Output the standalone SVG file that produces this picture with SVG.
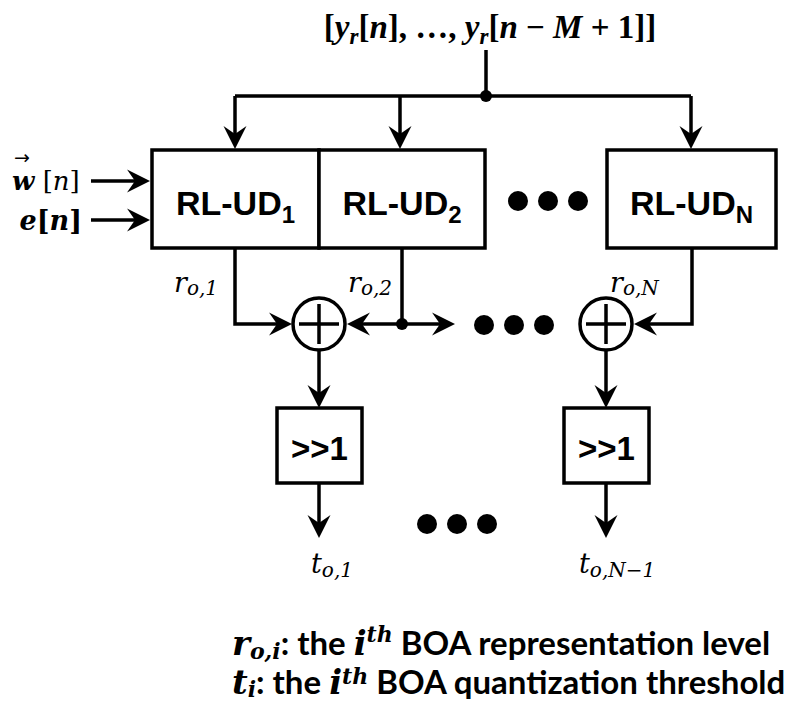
<svg xmlns="http://www.w3.org/2000/svg" width="801" height="703" viewBox="0 0 801 703">
<style>
.ln{stroke:#000;stroke-width:3.5;fill:none}
.bx{fill:#fff;stroke:#000;stroke-width:3.5}
.lbl{font-family:"Liberation Sans",Arial,sans-serif;font-weight:bold;font-size:34px;fill:#000}
.sh{font-family:"Liberation Sans",Arial,sans-serif;font-weight:bold;font-size:33px;fill:#000}
.m{font-family:"DejaVu Serif","Liberation Serif",serif;font-style:italic;fill:#000}
.mb{font-family:"DejaVu Serif","Liberation Serif",serif;font-weight:bold;fill:#000}
.tb{font-family:"Liberation Serif","DejaVu Serif",serif;font-weight:bold;fill:#000}
.i{font-style:italic}
.lg{font-family:Lato,"Open Sans",sans-serif;font-weight:bold;font-size:33px;fill:#000}
.dot{fill:#000}
</style>
<defs>
<marker id="ah" markerUnits="userSpaceOnUse" markerWidth="26" markerHeight="26" viewBox="-24 -13 26 26" refX="-8" refY="0" orient="auto">
<path d="M0,0 L-23,-11.5 L-15,0 L-23,11.5 Z" fill="#000"/>
</marker>
</defs>

<g id="connectors">
<path class="ln" d="M486,50 V96"/>
<path class="ln" d="M235,96 H691"/>
<path class="ln" d="M235,96 V141" marker-end="url(#ah)"/>
<path class="ln" d="M400,96 V141" marker-end="url(#ah)"/>
<path class="ln" d="M691,96 V141" marker-end="url(#ah)"/>
<path class="ln" d="M91,181 H142" marker-end="url(#ah)"/>
<path class="ln" d="M91,220 H142" marker-end="url(#ah)"/>
<path class="ln" d="M235,248 V324 H284" marker-end="url(#ah)"/>
<path class="ln" d="M402,248 V324"/>
<path class="ln" d="M402,324 H355" marker-end="url(#ah)"/>
<path class="ln" d="M402,324 H447" marker-end="url(#ah)"/>
<path class="ln" d="M692,248 V324 H642" marker-end="url(#ah)"/>
<path class="ln" d="M319,351 V400" marker-end="url(#ah)"/>
<path class="ln" d="M606,351 V400" marker-end="url(#ah)"/>
<path class="ln" d="M319,483 V530" marker-end="url(#ah)"/>
<path class="ln" d="M606,483 V530" marker-end="url(#ah)"/>
<circle class="dot" cx="486" cy="96" r="6"/>
<circle class="dot" cx="402" cy="324" r="6"/>
</g>

<g id="input-top">
<text class="tb" x="490" y="38" font-size="33" text-anchor="middle">[<tspan class="i">y</tspan><tspan class="i" font-size="23" dy="6">r</tspan><tspan dy="-6">[</tspan><tspan class="i">n</tspan>], …, <tspan class="i">y</tspan><tspan class="i" font-size="23" dy="6">r</tspan><tspan dy="-6">[</tspan><tspan class="i">n</tspan> − <tspan class="i">M</tspan> + 1]]</text>
</g>

<g id="input-w">
<text x="22" y="164" font-family="DejaVu Sans,sans-serif" font-size="19" text-anchor="middle">→</text>
<text x="12" y="190" font-family="DejaVu Serif,serif" font-size="26"><tspan font-weight="bold" font-style="italic">w</tspan> [<tspan font-style="italic">n</tspan>]</text>
</g>
<g id="input-e">
<text class="mb" x="82" y="230" font-size="27" text-anchor="end"><tspan class="i">e</tspan>[<tspan class="i">n</tspan>]</text>
</g>

<g id="rlud1">
<rect class="bx" x="152" y="150" width="167" height="98"/>
<text class="lbl" x="235.5" y="215" text-anchor="middle">RL-UD<tspan font-size="24" dy="8">1</tspan></text>
</g>
<g id="rlud2">
<rect class="bx" x="319" y="150" width="166" height="98"/>
<text class="lbl" x="402" y="215" text-anchor="middle">RL-UD<tspan font-size="24" dy="8">2</tspan></text>
</g>
<g id="dots-top">
<circle class="dot" cx="518" cy="201" r="10"/>
<circle class="dot" cx="548" cy="201" r="10"/>
<circle class="dot" cx="578" cy="201" r="10"/>
</g>
<g id="rludN">
<rect class="bx" x="607" y="150" width="169" height="98"/>
<text class="lbl" x="691.5" y="215" text-anchor="middle">RL-UD<tspan font-size="24" dy="8">N</tspan></text>
</g>

<g id="label-r1"><text class="m" x="174" y="292" font-size="27">r<tspan font-size="20" dy="3">o,1</tspan></text></g>
<g id="label-r2"><text class="m" x="348" y="292" font-size="27">r<tspan font-size="20" dy="3">o,2</tspan></text></g>
<g id="label-rN"><text class="m" x="610" y="292" font-size="27">r<tspan font-size="20" dy="3">o,N</tspan></text></g>

<g id="adder1">
<circle cx="319" cy="324" r="26" fill="#fff" stroke="#000" stroke-width="3.5"/>
<path class="ln" d="M299,324 H339 M319,304 V344"/>
</g>
<g id="dots-mid">
<circle class="dot" cx="484" cy="325" r="10"/>
<circle class="dot" cx="514" cy="325" r="10"/>
<circle class="dot" cx="544" cy="325" r="10"/>
</g>
<g id="adderN">
<circle cx="606" cy="324" r="26" fill="#fff" stroke="#000" stroke-width="3.5"/>
<path class="ln" d="M586,324 H626 M606,304 V344"/>
</g>

<g id="shift1">
<rect class="bx" x="277" y="408" width="85" height="75"/>
<text class="sh" x="319.5" y="460" text-anchor="middle">&gt;&gt;1</text>
</g>
<g id="shiftN">
<rect class="bx" x="564" y="408" width="85" height="75"/>
<text class="sh" x="606.5" y="460" text-anchor="middle">&gt;&gt;1</text>
</g>

<g id="dots-bottom">
<circle class="dot" cx="427" cy="524" r="10"/>
<circle class="dot" cx="457" cy="524" r="10"/>
<circle class="dot" cx="487" cy="524" r="10"/>
</g>

<g id="label-t1"><text class="m" x="311" y="573" font-size="27">t<tspan font-size="20" dy="4">o,1</tspan></text></g>
<g id="label-tN"><text class="m" x="579" y="573" font-size="27">t<tspan font-size="20" dy="4">o,N−1</tspan></text></g>

<g id="legend">
<text x="232" y="655"><tspan class="mb i" font-size="34">r</tspan><tspan class="mb i" font-size="22" dy="4">o,i</tspan><tspan class="lg" dy="-4">: the </tspan><tspan class="mb i" font-size="34">i</tspan><tspan class="mb i" font-size="22" dy="-13">th</tspan><tspan class="lg" dy="13"> BOA representation level</tspan></text>
<text x="232" y="694"><tspan class="mb i" font-size="34">t</tspan><tspan class="mb i" font-size="22" dy="3">i</tspan><tspan class="lg" dy="-3">: the </tspan><tspan class="mb i" font-size="34">i</tspan><tspan class="mb i" font-size="22" dy="-10">th</tspan><tspan class="lg" dy="10"> BOA quantization threshold</tspan></text>
</g>
</svg>
